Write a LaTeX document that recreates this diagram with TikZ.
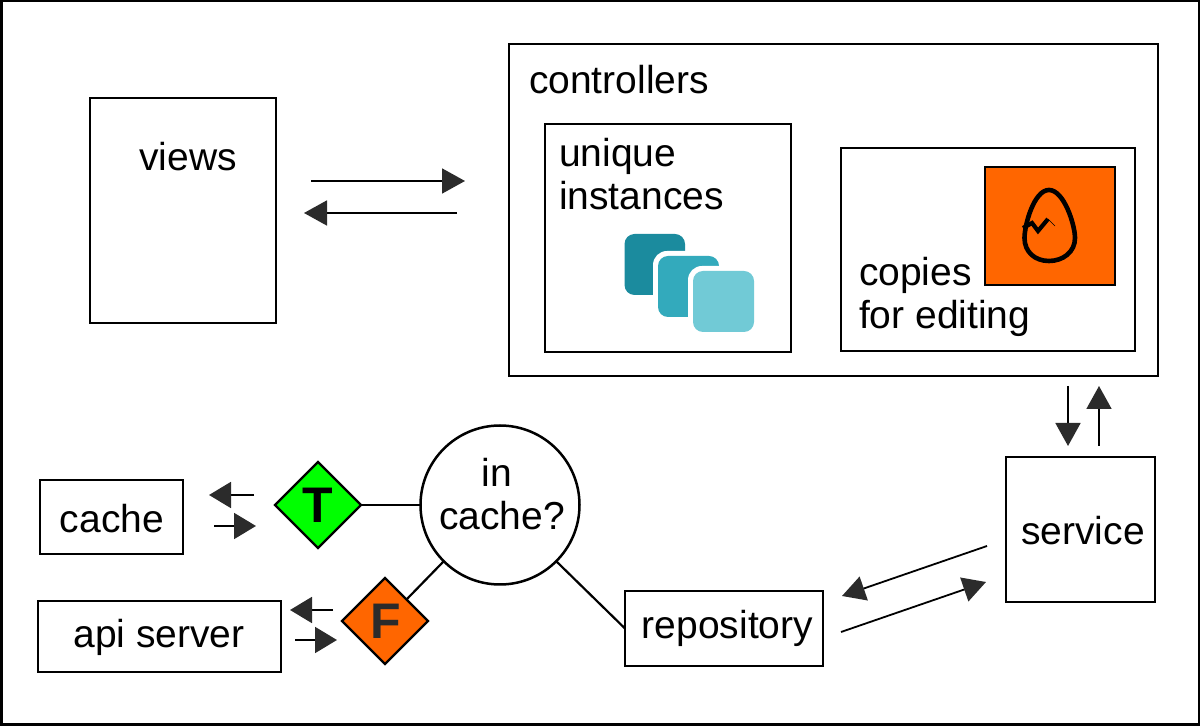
\documentclass[tikz,border=0pt]{standalone}
\usepackage{fontspec}
\setmainfont{Liberation Sans}
\usetikzlibrary{arrows.meta,shapes.geometric}
\definecolor{tipgray}{HTML}{2B2B2B}
\definecolor{eggorange}{HTML}{FF6600}
\definecolor{truegreen}{HTML}{00FF00}
\definecolor{stackdark}{HTML}{1B8B9E}
\definecolor{stackmid}{HTML}{33AABC}
\definecolor{stacklight}{HTML}{71CAD6}
\tikzset{
  boxnode/.style={draw,line width=1.25pt,inner sep=0pt,outer sep=0pt,font=\fontsize{19.5}{21.7}\selectfont},
  labelnode/.style={inner sep=0pt,outer sep=0pt,align=left,font=\fontsize{19.5}{21.7}\selectfont},
  flagnode/.style={diamond,draw,line width=1.1pt,inner sep=0pt,outer sep=0pt,minimum width=43pt,minimum height=43pt,font=\fontsize{25}{25}\selectfont\bfseries},
  flowarrow/.style={line width=0.9pt,-{Triangle[length=11.5pt,width=12.5pt,color=tipgray,fill=tipgray]}},
  smallarrow/.style={line width=0.9pt,-{Triangle[length=11pt,width=13pt,color=tipgray,fill=tipgray]}},
  stackcard/.style={rounded corners=5pt}
}
\begin{document}
\begin{tikzpicture}[x=0.5pt,y=-0.5pt]
\useasboundingbox (0,0) rectangle (1200,726);
\draw[line width=2.5pt] (0,0) rectangle (1200,726);
\node[boxnode,minimum width=93pt,minimum height=112.5pt] (views) at (183,210.5) {};
\node[labelnode] (viewslabel) at (188,157) {views};
\node[boxnode,minimum width=324.5pt,minimum height=166pt] (controllers) at (833.5,210) {};
\node[labelnode,anchor=west] (controllerslabel) at (529,80) {controllers};
\node[boxnode,minimum width=123pt,minimum height=114pt] (unique) at (668,238) {};
\node[labelnode,anchor=north west] (uniquelabel) at (559,138) {unique\\instances};
\node[boxnode,minimum width=147pt,minimum height=101.5pt] (copies) at (988,249.5) {};
\node[boxnode,fill=eggorange,minimum width=65pt,minimum height=59pt] (eggbox) at (1050,226) {};
\node[labelnode,anchor=north west] (copieslabel) at (859,257) {copies\\for editing};
% stacked cards
\fill[stackdark,stackcard] (624.5,234) rectangle (685,295);
\fill[white,rounded corners=7pt] (653,251) rectangle (724,322);
\fill[stackmid,stackcard] (658,256) rectangle (719,317);
\fill[white,rounded corners=7pt] (688,266) rectangle (759,337);
\fill[stacklight,stackcard] (693,271) rectangle (754,332);
% egg
\draw[line width=2.3pt] (1049,190) .. controls (1064,190) and (1075,225) .. (1075,238)
  .. controls (1075,252) and (1063,261) .. (1049,261)
  .. controls (1035,261) and (1024.5,252) .. (1024.5,238)
  .. controls (1024.5,225) and (1034,190) .. (1049,190) -- cycle;
\draw[line width=2.1pt] (1023,228) -- (1032,223) -- (1038,231) -- (1048,219);
\draw[line width=0.3pt] (1048,219) -- (1055,226);
\node[boxnode,minimum width=74.5pt,minimum height=72.5pt] (service) at (1080.5,529.5) {};
\node[labelnode] (servicelabel) at (1083,531) {service};
\node[boxnode,minimum width=99pt,minimum height=37.5pt] (repo) at (724,628.5) {};
\node[labelnode] (repolabel) at (727.5,628) {repository};
\node[boxnode,minimum width=71.5pt,minimum height=37pt] (cache) at (111.5,517) {};
\node[labelnode] (cachelabel) at (112,519) {cache};
\node[boxnode,minimum width=121.5pt,minimum height=35.5pt] (api) at (159.5,636.5) {};
\node[labelnode] (apilabel) at (159,637) {api server};
\node[boxnode,circle,minimum size=79.5pt] (incache) at (500,505) {};
\node[labelnode,align=center] (incachelabel) at (502,494) {in\hspace*{5pt}\\cache?};
\node[flagnode,fill=truegreen] (ttrue) at (318,505) {\raisebox{-1pt}{T}};
\node[flagnode,fill=eggorange,text=tipgray] (tfalse) at (385,621) {\raisebox{-1pt}{\hspace{1pt}F}};
\draw[line width=1.1pt] (ttrue.east) -- (incache.west);
\draw[line width=1.1pt] (tfalse.north east) -- (incache.225);
\draw[line width=1.1pt] (incache.-45) -- (repo.west);
% free arrow ends
\coordinate (va) at (311,181);
\coordinate (vb) at (465,181);
\coordinate (vc) at (457,213);
\coordinate (vd) at (304,213);
\draw[flowarrow] (va) -- (vb);
\draw[flowarrow] (vc) -- (vd);
\coordinate (sa) at (1068,386);
\coordinate (sb) at (1068,446);
\coordinate (sc) at (1099,446);
\coordinate (sd) at (1099,386);
\draw[flowarrow] (sa) -- (sb);
\draw[flowarrow] (sc) -- (sd);
\coordinate (ra) at (987,546);
\coordinate (rb) at (842,596);
\coordinate (rc) at (841,632);
\coordinate (rd) at (986,582);
\draw[flowarrow] (ra) -- (rb);
\draw[flowarrow] (rc) -- (rd);
\coordinate (ca) at (254,495);
\coordinate (cb) at (209,495);
\coordinate (cc) at (214,526);
\coordinate (cd) at (256,526);
\draw[smallarrow] (ca) -- (cb);
\draw[smallarrow] (cc) -- (cd);
\coordinate (aa) at (333,610);
\coordinate (ab) at (290,610);
\coordinate (ac) at (295,640);
\coordinate (ad) at (337,640);
\draw[smallarrow] (aa) -- (ab);
\draw[smallarrow] (ac) -- (ad);
\end{tikzpicture}
\end{document}
